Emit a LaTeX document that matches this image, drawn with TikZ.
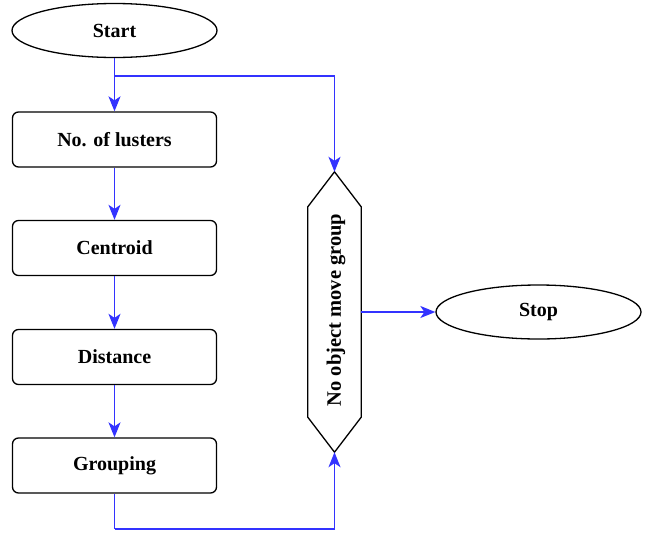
\documentclass[tikz,border=0pt]{standalone}
\usepackage{fontspec}
\setmainfont{Liberation Serif}
\usetikzlibrary{shapes.geometric,arrows.meta,calc}
\definecolor{flowblue}{RGB}{51,51,255}
\tikzset{
  x=1pt, y=-1pt,
  base/.style={draw=black, line width=1.3pt, font=\fontsize{20}{24}\selectfont\bfseries, inner sep=0pt},
  terminal/.style={base, ellipse, minimum width=205pt, minimum height=54pt},
  procbox/.style={base, rectangle, rounded corners=6pt, minimum width=204pt, minimum height=55pt},
  conn/.style={draw=flowblue, line width=1.4pt, -{Stealth[length=15pt,width=12pt,inset=4pt]}},
  plainconn/.style={draw=flowblue, line width=1.4pt}
}
\begin{document}
\begin{tikzpicture}
\useasboundingbox (0,0) rectangle (650,533);
\node[terminal] (start) at (114.5,30.5) {Start};
\node[procbox] (n1) at (114.5,139.5) {No. of lusters};
\node[procbox] (n2) at (114.5,248) {Centroid};
\node[procbox] (n3) at (114.5,357) {Distance};
\node[procbox] (n4) at (114.5,465.5) {Grouping};
\node[inner sep=0pt, minimum width=53pt, minimum height=280pt] (hex) at (334.5,312) {};
\node[font=\fontsize{20.5}{24}\selectfont\bfseries, rotate=90, inner sep=0pt] (hexlabel) at (336,310) {No object move group};
\draw[line width=1.3pt, line join=miter]
  (hex.north) -- ([yshift=-35pt]hex.north east) -- ([yshift=35pt]hex.south east)
  -- (hex.south) -- ([yshift=35pt]hex.south west) -- ([yshift=-35pt]hex.north west) -- cycle;
\node[terminal] (stop) at (538.5,312) {Stop};
\coordinate (split) at (114.5,76);
\coordinate (gb) at (114.5,529);
\draw[conn] (start.south) -- (n1.north);
\draw[conn] (split) -| (hex.north);
\draw[conn] (n1.south) -- (n2.north);
\draw[conn] (n2.south) -- (n3.north);
\draw[conn] (n3.south) -- (n4.north);
\draw[plainconn] (n4.south) -- (gb);
\draw[conn] (gb) -| (hex.south);
\draw[conn] (hex.east) -- (stop.west);
\end{tikzpicture}
\end{document}
